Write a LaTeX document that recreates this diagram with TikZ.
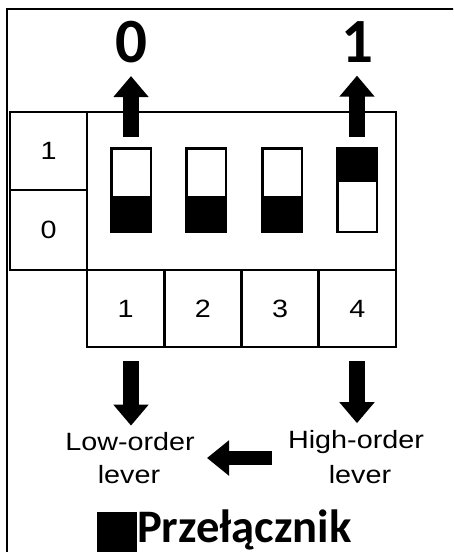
\documentclass[tikz,border=0pt]{standalone}
\usepackage{graphicx}
\usepackage{fontspec}
\setmainfont{Liberation Sans}
\newfontfamily\titlefont{Carlito}
\usetikzlibrary{arrows.meta}

% wide setting of the Arial-like captions and digits
\newcommand{\widetext}[1]{\scalebox{1.15}[1]{#1}}

\begin{document}
\begin{tikzpicture}[x=1pt,y=-1pt,
  box/.style={draw, line width=2.5pt, inner sep=0pt},
  cell/.style={box, minimum width=77.25pt, minimum height=77pt,
    font=\fontsize{25}{26}\selectfont},
  sidecell/.style={box, minimum width=77pt,
    font=\fontsize{25}{26}\selectfont},
  lever/.style={draw, line width=2.5pt, inner sep=0pt,
    minimum width=39.5pt, minimum height=83.5pt},
  bigarrow/.style={line width=16pt, -{Triangle[width=34pt,length=21pt]}},
  sidearrow/.style={line width=14pt, -{Triangle[width=34pt,length=22pt]}},
  bitlabel/.style={inner sep=0pt, font=\titlefont\bfseries\fontsize{63}{63}\selectfont},
  caption/.style={inner sep=0pt, font=\fontsize{25}{26}\selectfont},
]
\useasboundingbox (0,0) rectangle (453,552);
\clip (0,0) rectangle (453,552);

% outer frame (open to the right and bottom)
\draw[line width=2pt] (7,560) -- (7,9) -- (460,9);

% left column: positions 1 and 0
\node[sidecell, minimum height=78pt] (on)  at (48.5,151) {\widetext{1}};
\node[sidecell, minimum height=80pt] (off) at (48.5,230) {\widetext{0}};

% switch panel
\node[box, minimum width=309pt, minimum height=158pt] (panel) at (241.5,191) {};

% number row
\node[cell] (c1) at (125.6,308.5) {\widetext{1}};
\node[cell] (c2) at (202.9,308.5) {\widetext{2}};
\node[cell] (c3) at (280.1,308.5) {\widetext{3}};
\node[cell] (c4) at (357.4,308.5) {\widetext{4}};

% levers
\node[lever] (s1) at (131,190) {};
\node[lever] (s2) at (206,190) {};
\node[lever] (s3) at (282,190) {};
\node[lever] (s4) at (357,190) {};
\fill (s1.south west) rectangle ([yshift=-6pt]s1.east);
\fill (s2.south west) rectangle ([yshift=-6pt]s2.east);
\fill (s3.south west) rectangle ([yshift=-6pt]s3.east);
\fill (s4.north west) rectangle ([yshift=8pt]s4.east);

% bit values
\node[bitlabel] (zero) at (131,42) {0};
\node[bitlabel] (one)  at (357,42) {1};
\draw[bigarrow] ([yshift=10pt]s1.north) -- ([yshift=-13pt]zero.south);
\draw[bigarrow] ([yshift=10pt]s4.north) -- ([yshift=-13pt]one.south);

% lever order captions
\node[caption] (low)   at (130,442) {\widetext{Low-order}};
\node[caption] (lowb)  at (129,475) {\widetext{lever}};
\node[caption] (high)  at (356,442) {\widetext{High-order}};
\node[caption] (highb) at (360,475) {\widetext{lever}};
\draw[bigarrow] ([yshift=-13pt]c1.south -| s1) -- ([yshift=7pt]low.north -| s1);
\draw[bigarrow] ([yshift=-13pt]c4.south -| s4) -- ([yshift=7pt]high.north -| s4);

\coordinate (from) at (272,458);
\coordinate (to)   at (207,458);
\draw[sidearrow] (from) -- (to);

% title
\fill (97,512) rectangle (137,552);
\node[inner sep=0pt, anchor=base west, font=\titlefont\bfseries\fontsize{46.6}{47}\selectfont]
  (title) at (137,542) {Przełącznik};
\end{tikzpicture}
\end{document}
